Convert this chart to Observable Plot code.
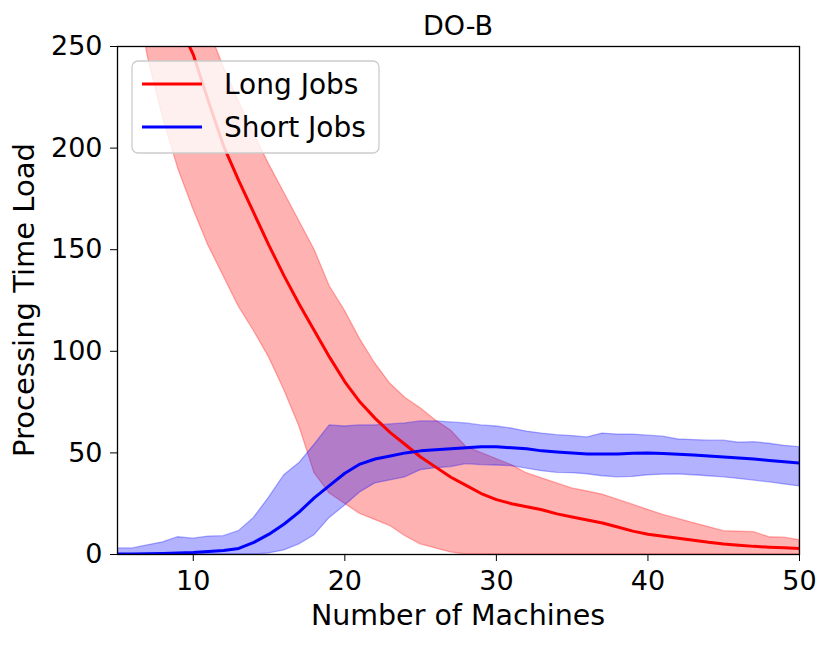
<!DOCTYPE html>
<html>
<head>
<meta charset="utf-8">
<script src="https://cdn.jsdelivr.net/npm/d3@7"></script>
<script src="https://cdn.jsdelivr.net/npm/@observablehq/plot@0.6"></script>
<style>
  body { margin: 0; background: #fff; font-family: "DejaVu Sans", sans-serif; }
  #chart { width: 831px; height: 645px; }
</style>
</head>
<body>
<div id="chart"></div>
<script>
// ---- data ----
const machines = [5,6,7,8,9,10,11,12,13,14,15,16,17,18,19,20,21,22,23,24,25,26,27,28,29,30,31,32,33,34,35,36,37,38,39,40,41,42,43,44,45,46,47,48,49,50];

const longMean = [380,345,312,285,262,246,223,201,184,168,152,137,123,110,97,85,75,67,60,54,48,43,38,34,30,27,25,23.5,22,20,18.5,17,15.5,13.5,11.5,10,9,8,7,6,5.2,4.6,4,3.6,3.3,3];
const longHigh = [480,440,400,360,325,292,259,240,223,207,192,178,164,150,132,120,106,94,84,77,72,66,61,53,50,47,44,40,37.5,35,32.5,31,29.5,27,24.5,22,19.5,17.5,15.5,13.5,11.5,11.2,11,8.5,8.3,7];
const longLow  = [330,285,245,215,190,170,152,137,122,110,97,81,63,40,30,25,20,17,14,9,5,3,1,0,0,0,0,0,0,0,0,0,0,0,0,0,0,0,0,0,0,0,0,0,0,0];

const shortMean = [0.3,0.3,0.4,0.5,0.7,1,1.5,2,3,6,10,15,21,28,34,40,44.5,47,48.5,50,51,51.5,52,52.5,53,53,52.5,52,51,50.5,50,49.5,49.5,49.5,49.8,50,49.7,49.3,49,48.5,48,47.5,47,46.3,45.7,45];
const shortHigh = [3,3,4.5,6,8.5,7.8,8.8,9,11.5,18,28,39,45,54,63.5,63,63.5,63.5,64,64.5,65.5,65.5,65,64.5,63.5,63,62,60.5,59.5,58.7,58.3,57.6,59.5,59,59,58.5,58,56.6,56.3,56,56,55,55.3,54.5,53.5,52.8];
const shortLow  = [0,0,0,0,0,0,0,0,0,0,0.5,2,5,9.5,18,24,30.5,35,36.5,38,41.5,42.5,43,44.5,44,43.8,43.5,42.3,41,40.2,40,39.5,38.5,38,38.2,39,39.3,39.4,39,38.5,38,37.2,36.4,35.5,34.5,33.5];

const xTicks = [10,20,30,40,50];
const yTicks = [0,50,100,150,200,250];
const seriesNames = ["Long Jobs","Short Jobs"];
const seriesColors = ["red","blue"];
const titleText = "DO-B";
const xLabel = "Number of Machines";
const yLabel = "Processing Time Load";

// ---- tables ----
const longData = machines.map((m,i) => ({m, mean: longMean[i], lo: longLow[i], hi: longHigh[i]}));
const shortData = machines.map((m,i) => ({m, mean: shortMean[i], lo: shortLow[i], hi: shortHigh[i]}));

const W = 831, H = 645, ML = 117, MR = 32, MT = 46, MB = 91;

const chart = Plot.plot({
  width: W, height: H,
  marginLeft: ML, marginRight: MR, marginTop: MT, marginBottom: MB,
  style: { fontFamily: "DejaVu Sans, sans-serif", fontSize: "27px", color: "black", background: "white", overflow: "visible" },
  x: { domain: [5, 50] },
  y: { domain: [0, 250] },
  marks: [
    Plot.areaY(longData, { x: "m", y1: "lo", y2: "hi", fill: seriesColors[0], fillOpacity: 0.3, stroke: seriesColors[0], strokeOpacity: 0.3, strokeWidth: 1.3, clip: true }),
    Plot.areaY(shortData, { x: "m", y1: "lo", y2: "hi", fill: seriesColors[1], fillOpacity: 0.3, stroke: seriesColors[1], strokeOpacity: 0.3, strokeWidth: 1.3, clip: true }),
    Plot.lineY(longData, { x: "m", y: "mean", stroke: seriesColors[0], strokeWidth: 3, clip: true }),
    Plot.lineY(shortData, { x: "m", y: "mean", stroke: seriesColors[1], strokeWidth: 3, clip: true }),
    Plot.frame({ stroke: "black", strokeWidth: 1.3 }),
    Plot.axisX({ ticks: xTicks, tickSize: 7, tickPadding: 9, label: null, fontSize: 27 }),
    Plot.axisY({ ticks: yTicks, tickSize: 7, tickPadding: 8, label: null, fontSize: 27 })
  ]
});

document.getElementById("chart").appendChild(chart);

// ---- title, axis labels, legend ----
const svg = d3.select(chart);
const cx = ML + (W - ML - MR) / 2;
const cy = MT + (H - MT - MB) / 2;

svg.append("text").attr("x", cx).attr("y", 35).attr("text-anchor", "middle")
  .attr("font-size", 27).attr("fill", "black").text(titleText);
svg.append("text").attr("x", cx).attr("y", 625).attr("text-anchor", "middle")
  .attr("font-size", 28.5).attr("fill", "black").text(xLabel);
svg.append("text").attr("transform", `translate(34,${cy}) rotate(-90)`).attr("text-anchor", "middle")
  .attr("font-size", 29).attr("fill", "black").text(yLabel);

const lg = svg.append("g");
lg.append("rect").attr("x", 132).attr("y", 61).attr("width", 247).attr("height", 92).attr("rx", 6)
  .attr("fill", "white").attr("fill-opacity", 0.8).attr("stroke", "#cccccc").attr("stroke-width", 1.3);
seriesNames.forEach((name, i) => {
  const ly = 84 + i * 43;
  lg.append("line").attr("x1", 142).attr("x2", 202).attr("y1", ly).attr("y2", ly)
    .attr("stroke", seriesColors[i]).attr("stroke-width", 3);
  lg.append("text").attr("x", 224).attr("y", ly + 10).attr("text-anchor", "start")
    .attr("font-size", 28).attr("fill", "black").text(name);
});
</script>
</body>
</html>
